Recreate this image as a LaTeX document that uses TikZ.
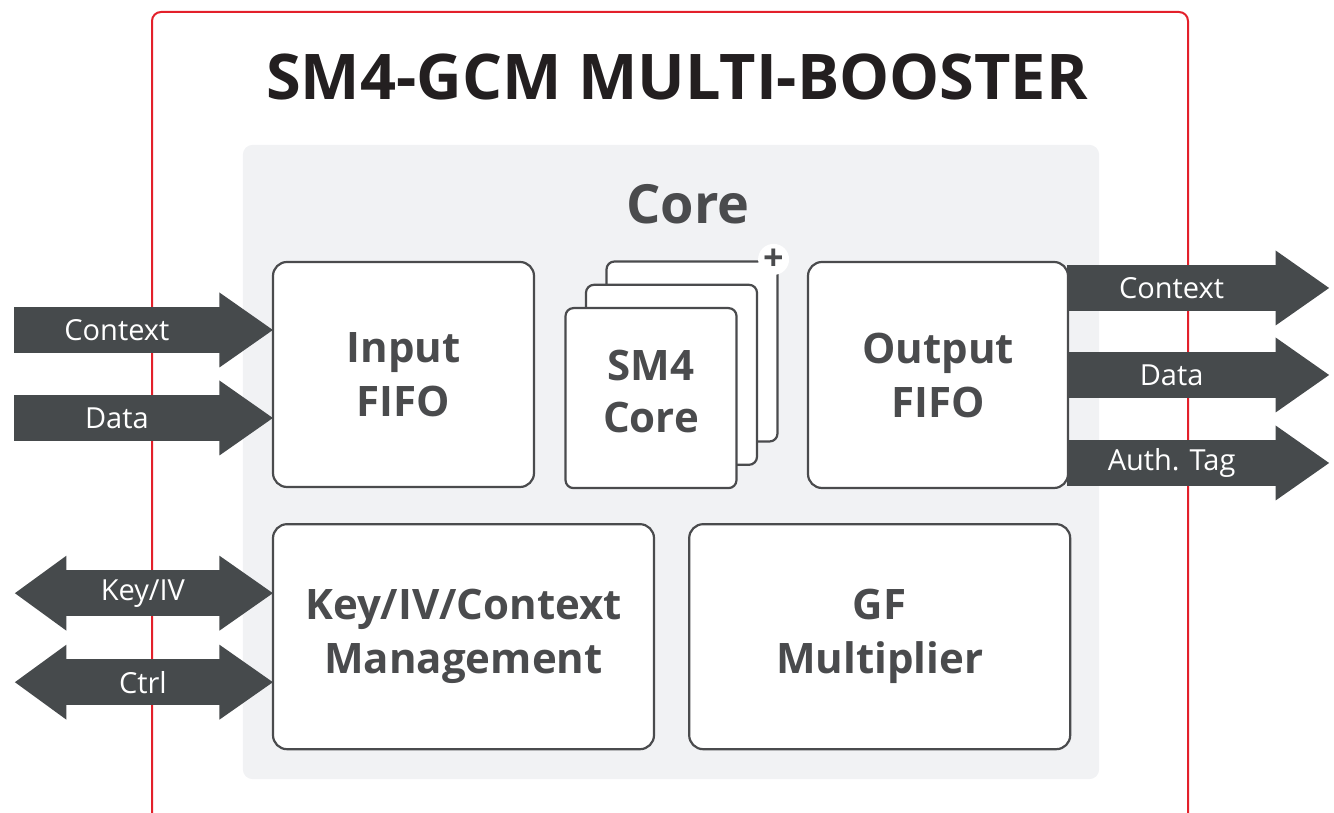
\documentclass[tikz,border=0pt]{standalone}
\usepackage{fontspec}
\setsansfont{Open Sans}
\usepackage{tikz}
\usetikzlibrary{positioning,calc,backgrounds}
\definecolor{ink1}{HTML}{231F20}
\definecolor{gray1}{HTML}{4A4B4D}
\definecolor{arrow1}{HTML}{464A4C}
\definecolor{panel1}{HTML}{F1F2F4}
\definecolor{red1}{HTML}{E3202A}

% arrow heads on a shaft node
\newcommand{\headR}[1]{\fill[arrow1] ([xshift=-0.5pt,yshift=14.5pt]#1.north east)
    -- ($(#1.east)+(53,0)$) -- ([xshift=-0.5pt,yshift=-14.5pt]#1.south east) -- cycle;}
\newcommand{\headL}[1]{\fill[arrow1] ([xshift=0.5pt,yshift=14.5pt]#1.north west)
    -- ($(#1.west)+(-51,0)$) -- ([xshift=0.5pt,yshift=-14.5pt]#1.south west) -- cycle;}

\begin{document}
\begin{tikzpicture}[
    x=1pt, y=1pt,
    blk/.style={draw=gray1, line width=2.2pt, fill=white, rounded corners=14pt,
                align=center, text=gray1, inner sep=0pt,
                font=\sffamily\bfseries\fontsize{42}{54}\selectfont},
    corebox/.style={blk, rounded corners=8pt, minimum width=171pt,
                    minimum height=180pt},
    shaft/.style={fill=arrow1, text=white, minimum height=46pt,
                  inner sep=0pt, outer sep=0pt,
                  font=\sffamily\fontsize{29}{34}\selectfont},
]
\useasboundingbox (0,0) rectangle (1334,813);

% ── Title ──
\node[font=\sffamily\bfseries\fontsize{63}{70}\selectfont, text=ink1,
      anchor=base] (title) at (677,713) {SM4-GCM MULTI-BOOSTER};

% ── Core panel (filled on the background layer) ──
\node[inner sep=0pt, minimum width=856pt, minimum height=634pt]
    (panel) at (671,351) {};
\node[font=\sffamily\bfseries\fontsize{54}{60}\selectfont, text=gray1,
      anchor=base] (coretitle) at (688,589) {Core};

% ── Blocks ──
\node[blk, minimum width=261pt, minimum height=225pt]
    (infifo) at (403.5,438.5) {Input\\FIFO};
\node[blk, minimum width=260pt, minimum height=226pt]
    (outfifo) at (938,438) {Output\\FIFO};
\node[blk, minimum width=381pt, minimum height=225pt,
      below=35pt of infifo.south west, anchor=north west]
    (keymgmt) {Key/IV/Context\\Management};
\node[blk, minimum width=381pt, minimum height=225pt,
      right=33pt of keymgmt] (gfmult) {GF\\Multiplier};

% ── SM4 core stack ──
\node[corebox] (sm4c) at (692,461.5) {};
\node[corebox] (sm4b) at ([xshift=-20.5pt,yshift=-23.3pt]sm4c.center) {};
\node[corebox] (sm4a) at ([xshift=-20.5pt,yshift=-23.3pt]sm4b.center) {};
\node[align=center, text=gray1, inner sep=0pt,
      font=\sffamily\bfseries\fontsize{42}{52}\selectfont]
    (sm4txt) at ([yshift=7pt]sm4a.center) {SM4\\Core};
\node[circle, fill=white, minimum size=31pt, inner sep=0pt, text=gray1,
      font=\sffamily\bfseries\fontsize{36}{36}\selectfont]
    (more) at ([xshift=-5pt,yshift=1pt]sm4c.north east) {+};

\begin{scope}[on background layer]
\clip (0,0) rectangle (1334,813);
% ── Outer frame ──
\draw[red1, line width=2pt, rounded corners=9pt] (152,-20) rectangle (1188,801);
\fill[panel1, rounded corners=10pt] (panel.south west) rectangle (panel.north east);

% ── Inputs ──
\node[shaft, minimum width=206pt, anchor=east]
    (ctxin) at ($(infifo.west)+(-52,44.5)$) {Context};
\node[shaft, minimum width=206pt, anchor=east]
    (datain) at ($(infifo.west)+(-52,-43.5)$) {Data};
\headR{ctxin}
\headR{datain}

% ── Key / control (both ways) ──
\node[shaft, minimum width=154pt, anchor=east]
    (keyiv) at ($(keymgmt.west)+(-52,43.5)$) {Key/IV};
\node[shaft, minimum width=154pt, anchor=east]
    (ctrl) at ($(keymgmt.west)+(-52,-45.5)$) {Ctrl};
\headR{keyiv} \headL{keyiv}
\headR{ctrl} \headL{ctrl}

% ── Outputs ──
\node[shaft, minimum width=209pt, anchor=west]
    (ctxout) at ($(outfifo.east)+(-2,87)$) {Context};
\node[shaft, minimum width=209pt, anchor=west]
    (dataout) at ($(outfifo.east)+(-2,0)$) {Data};
\node[shaft, minimum width=209pt, anchor=west]
    (tagout) at ($(outfifo.east)+(-2,-88)$) {Auth. Tag};
\headR{ctxout}
\headR{dataout}
\headR{tagout}
\end{scope}

\end{tikzpicture}
\end{document}
